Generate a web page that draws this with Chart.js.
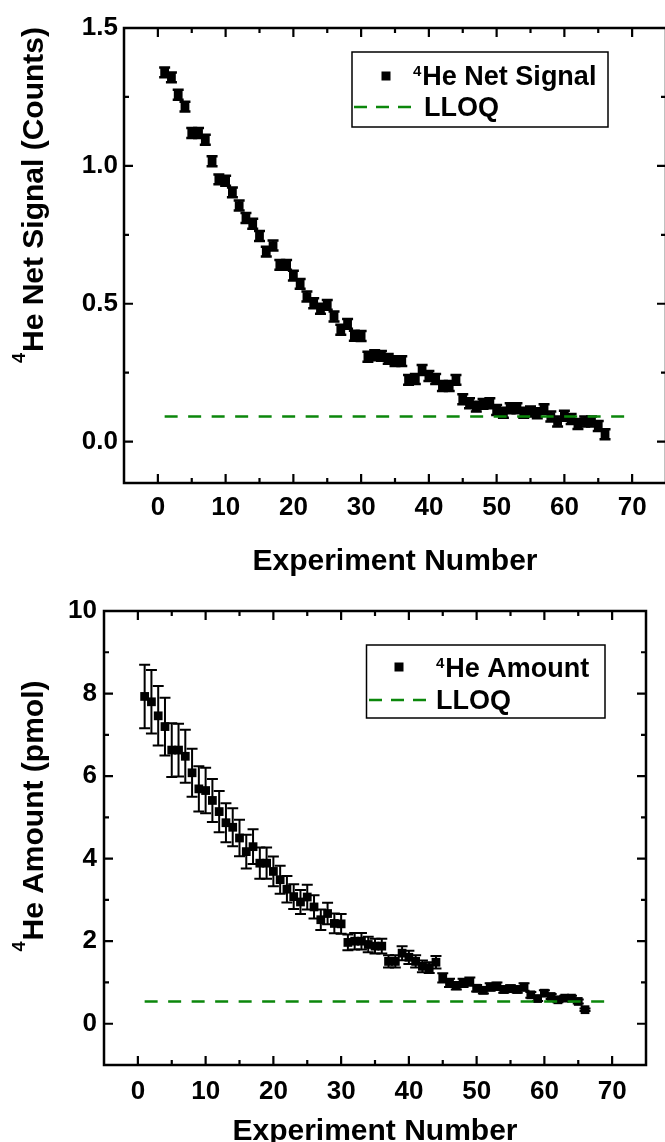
<!DOCTYPE html>
<html><head><meta charset="utf-8">
<script src="https://cdn.jsdelivr.net/npm/chart.js@4.4.1/dist/chart.umd.min.js"></script>
<style>
html,body{margin:0;padding:0;background:#fff;overflow:hidden;width:665px;height:1142px;position:relative}
#c1{position:absolute;left:0;top:0}
#c2{position:absolute;left:0;top:580px}
</style></head><body>
<canvas id="c1" width="700" height="580"></canvas>
<canvas id="c2" width="665" height="562"></canvas>
<script>
// ---------------- DATA ----------------
const experimentNumbers = [1,2,3,4,5,6,7,8,9,10,11,12,13,14,15,16,17,18,19,20,21,22,23,24,25,26,27,28,29,30,31,32,33,34,35,36,37,38,39,40,41,42,43,44,45,46,47,48,49,50,51,52,53,54,55,56,57,58,59,60,61,62,63,64,65,66];

const netSignal = [1.339,1.321,1.258,1.215,1.119,1.119,1.095,1.017,0.951,0.946,
  0.904,0.856,0.811,0.790,0.746,0.689,0.711,0.641,0.641,0.602,
  0.572,0.526,0.502,0.482,0.496,0.454,0.406,0.427,0.384,0.383,
  0.308,0.313,0.311,0.300,0.292,0.292,0.224,0.227,0.260,0.238,
  0.227,0.202,0.202,0.224,0.154,0.139,0.127,0.137,0.139,0.115,
  0.105,0.121,0.121,0.105,0.109,0.103,0.118,0.091,0.073,0.094,
  0.082,0.064,0.073,0.073,0.057,0.027];

const netSignalErr = [0.018,0.018,0.018,0.018,0.018,0.018,0.018,0.018,0.018,0.018,
  0.018,0.018,0.018,0.018,0.018,0.018,0.018,0.018,0.018,0.018,
  0.018,0.018,0.018,0.018,0.018,0.018,0.018,0.018,0.018,0.018,
  0.018,0.018,0.018,0.018,0.018,0.018,0.018,0.018,0.018,0.018,
  0.018,0.018,0.018,0.018,0.018,0.018,0.018,0.018,0.018,0.018,
  0.018,0.018,0.018,0.018,0.018,0.018,0.018,0.018,0.018,0.018,
  0.018,0.018,0.018,0.018,0.018,0.018];

const amount = [7.93,7.80,7.46,7.20,6.63,6.63,6.48,6.08,5.69,5.65,
  5.41,5.14,4.87,4.76,4.50,4.17,4.29,3.89,3.89,3.69,
  3.49,3.26,3.08,2.95,3.07,2.83,2.52,2.67,2.43,2.42,
  1.97,2.00,2.00,1.92,1.88,1.88,1.51,1.51,1.71,1.61,
  1.51,1.39,1.36,1.49,1.11,0.99,0.92,0.99,1.02,0.86,
  0.81,0.89,0.91,0.83,0.85,0.83,0.89,0.70,0.61,0.74,
  0.66,0.58,0.62,0.62,0.54,0.34];

const amountErr = [0.77,0.77,0.72,0.70,0.65,0.64,0.64,0.58,0.55,0.55,
  0.52,0.50,0.47,0.46,0.44,0.41,0.42,0.38,0.38,0.36,
  0.34,0.32,0.30,0.29,0.30,0.28,0.25,0.26,0.24,0.24,
  0.19,0.20,0.20,0.19,0.18,0.18,0.15,0.15,0.17,0.16,
  0.15,0.14,0.13,0.15,0.11,0.10,0.09,0.10,0.10,0.08,
  0.08,0.09,0.09,0.08,0.08,0.08,0.09,0.07,0.06,0.07,
  0.06,0.06,0.06,0.06,0.05,0.03];

const lloqX = [1, 69];
const lloqSignal = [0.091, 0.091];
const lloqAmount = [0.54, 0.54];

const xTicks = [0,10,20,30,40,50,60,70];
const xMinorTicks = [5,15,25,35,45,55,65];
const signalTicks = [0.0,0.5,1.0,1.5];
const signalMinorTicks = [0.25,0.75,1.25];
const amountTicks = [0,2,4,6,8,10];
const amountMinorTicks = [1,3,5,7,9];

// ---------------- RENDERING ----------------
const FONT = "'Liberation Sans', Arial, Helvetica, sans-serif";
const GREEN = '#0b870b';

const originPlugin = {
  id: 'originFrame',
  beforeDatasetsDraw(chart, args, o) {
    const {ctx, scales: {x, y}} = chart;
    chart.data.datasets.forEach(ds => {
      if (!ds.errorBars) return;
      ctx.save();
      ctx.strokeStyle = '#000';
      ctx.lineWidth = o.errWidth;
      ds.data.forEach((p, i) => {
        const e = ds.errorBars[i];
        const px = x.getPixelForValue(p.x);
        const yt = y.getPixelForValue(p.y + e);
        const yb = y.getPixelForValue(p.y - e);
        ctx.beginPath();
        ctx.moveTo(px, yt); ctx.lineTo(px, yb);
        ctx.moveTo(px - o.errCap, yt); ctx.lineTo(px + o.errCap, yt);
        ctx.moveTo(px - o.errCap, yb); ctx.lineTo(px + o.errCap, yb);
        ctx.stroke();
      });
      ctx.restore();
    });
  },
  afterDatasetsDraw(chart, args, o) {
    const {ctx, chartArea: a, scales: {x, y}} = chart;
    ctx.save();
    ctx.strokeStyle = '#000';
    ctx.lineWidth = 2.5;
    ctx.strokeRect(a.left, a.top, a.right - a.left, a.bottom - a.top);
    ctx.lineWidth = 2.2;
    ctx.beginPath();
    const tx = (vals, len) => vals.forEach(v => {
      const px = x.getPixelForValue(v);
      ctx.moveTo(px, a.bottom); ctx.lineTo(px, a.bottom - len);
      ctx.moveTo(px, a.top); ctx.lineTo(px, a.top + len);
    });
    const ty = (vals, len) => vals.forEach(v => {
      const py = y.getPixelForValue(v);
      ctx.moveTo(a.left, py); ctx.lineTo(a.left + len, py);
      ctx.moveTo(a.right, py); ctx.lineTo(a.right - len, py);
    });
    tx(o.xMajor, 9); tx(o.xMinor, 5);
    ty(o.yMajor, 9); ty(o.yMinor, 5);
    ctx.stroke();
    ctx.restore();
  },
  afterDraw(chart, args, o) {
    const {ctx, chartArea: a} = chart;
    ctx.save();
    ctx.fillStyle = '#000';
    // x title
    ctx.font = 'bold 30px ' + FONT;
    ctx.textAlign = 'center';
    ctx.textBaseline = 'alphabetic';
    ctx.fillText(o.xTitle.text, (a.left + a.right) / 2, o.xTitle.baseline);
    // y title with superscript
    const t = o.yTitle;
    ctx.save();
    ctx.translate(t.baselineX, t.centerY);
    ctx.rotate(-Math.PI / 2);
    ctx.textAlign = 'left';
    ctx.font = 'bold 30px ' + FONT;
    const W = ctx.measureText(t.text).width;
    ctx.font = 'bold 18px ' + FONT;
    const w = ctx.measureText(t.sup).width;
    const start = -(W + w + 1) / 2;
    ctx.fillText(t.sup, start, -t.supRaise);
    ctx.font = 'bold 30px ' + FONT;
    ctx.fillText(t.text, start + w + 1, 0);
    ctx.restore();
    // legend
    const L = o.legend;
    ctx.lineWidth = 1.5;
    ctx.strokeStyle = '#000';
    ctx.strokeRect(L.box[0], L.box[1], L.box[2], L.box[3]);
    ctx.fillRect(L.marker[0] - 4.5, L.marker[1] - 4.5, 9, 9);
    ctx.textAlign = 'left';
    ctx.font = 'bold 15px ' + FONT;
    const sw = ctx.measureText(L.sup).width;
    ctx.fillText(L.sup, L.text1[0], L.text1[1] - 9);
    ctx.font = 'bold 27px ' + FONT;
    ctx.fillText(L.label1, L.text1[0] + sw + 1, L.text1[1]);
    ctx.fillText(L.label2, L.text2[0], L.text2[1]);
    ctx.strokeStyle = GREEN;
    ctx.lineWidth = 2.5;
    ctx.setLineDash([13, 9]);
    ctx.beginPath();
    ctx.moveTo(L.line[0], L.line[2]); ctx.lineTo(L.line[1], L.line[2]);
    ctx.stroke();
    ctx.restore();
  }
};

function makeChart(id, cfg) {
  const tickFont = {family: FONT, size: 26, weight: 'bold'};
  return new Chart(document.getElementById(id), {
    type: 'scatter',
    data: {
      datasets: [
        {
          label: 'LLOQ',
          data: lloqX.map((v, i) => ({x: v, y: cfg.lloq[i]})),
          showLine: true,
          borderColor: GREEN,
          borderWidth: 2.5,
          borderDash: [13, 10.5],
          pointRadius: 0,
          fill: false
        },
        {
          label: cfg.seriesLabel,
          data: experimentNumbers.map((v, i) => ({x: v, y: cfg.values[i]})),
          errorBars: cfg.errors,
          showLine: false,
          pointStyle: 'rect',
          pointRadius: 6.2,
          pointBackgroundColor: '#000',
          pointBorderColor: '#000',
          pointBorderWidth: 0,
          borderColor: '#000'
        }
      ]
    },
    options: {
      responsive: false,
      animation: false,
      devicePixelRatio: 1,
      layout: {padding: cfg.padding},
      plugins: {
        legend: {display: false},
        tooltip: {enabled: false},
        originFrame: cfg.frame
      },
      scales: {
        x: {
          type: 'linear', min: -5, max: 75,
          afterBuildTicks: s => { s.ticks = xTicks.map(v => ({value: v})); },
          afterFit: s => { s.height = cfg.xHeight; },
          grid: {display: false, drawTicks: false},
          border: {display: false},
          ticks: {font: tickFont, color: '#000', padding: cfg.xPad, maxRotation: 0, autoSkip: false}
        },
        y: {
          type: 'linear', min: cfg.yMin, max: cfg.yMax,
          afterBuildTicks: s => { s.ticks = cfg.yTicks.map(v => ({value: v})); },
          afterFit: s => { s.width = cfg.yWidth; },
          grid: {display: false, drawTicks: false},
          border: {display: false},
          ticks: {font: tickFont, color: '#000', padding: cfg.yPad, autoSkip: false, callback: cfg.yFmt}
        }
      }
    },
    plugins: [originPlugin]
  });
}

makeChart('c1', {
  values: netSignal, errors: netSignalErr, lloq: lloqSignal,
  seriesLabel: '4He Net Signal',
  yMin: -0.15, yMax: 1.5, yTicks: signalTicks,
  yFmt: v => Number(v).toFixed(1),
  padding: {top: 28, right: 34, left: 0, bottom: 0},
  xHeight: 97, yWidth: 124, xPad: 9, yPad: 6,
  frame: {
    xMajor: xTicks, xMinor: xMinorTicks, yMajor: signalTicks, yMinor: signalMinorTicks,
    errCap: 5.5, errWidth: 2.5,
    xTitle: {text: 'Experiment Number', baseline: 570},
    yTitle: {sup: '4', text: 'He Net Signal (Counts)', baselineX: 43, centerY: 195, supRaise: 18},
    legend: {box: [352, 52, 256, 75], marker: [386, 76], sup: '4', label1: 'He Net Signal',
             text1: [413, 85], label2: 'LLOQ', text2: [424, 116], line: [354, 411, 107]}
  }
});

makeChart('c2', {
  values: amount, errors: amountErr, lloq: lloqAmount,
  seriesLabel: '4He Amount',
  yMin: -1, yMax: 10, yTicks: amountTicks,
  yFmt: v => String(v),
  padding: {top: 31, right: 19, left: 0, bottom: 0},
  xHeight: 77, yWidth: 104, xPad: 11, yPad: 7,
  frame: {
    xMajor: xTicks, xMinor: xMinorTicks, yMajor: amountTicks, yMinor: amountMinorTicks,
    errCap: 5.5, errWidth: 2,
    xTitle: {text: 'Experiment Number', baseline: 560},
    yTitle: {sup: '4', text: 'He Amount (pmol)', baselineX: 43, centerY: 236, supRaise: 18},
    legend: {box: [366.5, 65, 238.5, 73], marker: [399, 87], sup: '4', label1: 'He Amount',
             text1: [436, 97], label2: 'LLOQ', text2: [436, 129], line: [369, 426, 120]}
  }
});
</script>
</body></html>
